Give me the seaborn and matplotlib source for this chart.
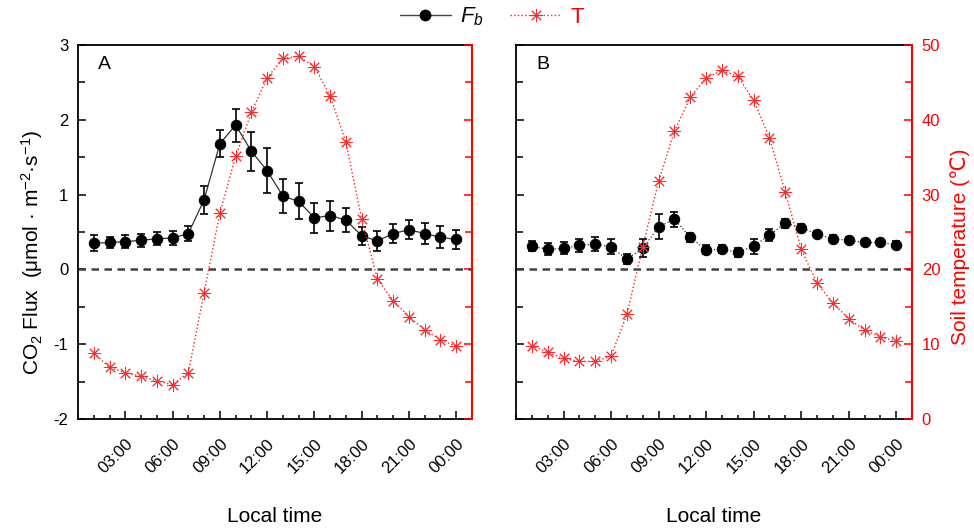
import matplotlib
matplotlib.use("Agg")
import matplotlib.pyplot as plt
import seaborn as sns
import pandas as pd
from matplotlib.lines import Line2D
from matplotlib.ticker import MultipleLocator, FixedLocator

# ---------------- data ----------------
hours = list(range(1, 25))
tick_hours = [3, 6, 9, 12, 15, 18, 21, 24]
tick_labels = ["03:00", "06:00", "09:00", "12:00", "15:00", "18:00", "21:00", "00:00"]

flux_a = [0.35, 0.36, 0.37, 0.39, 0.41, 0.42, 0.48, 0.93, 1.68, 1.93, 1.58, 1.32,
          0.98, 0.91, 0.69, 0.72, 0.66, 0.45, 0.38, 0.48, 0.53, 0.48, 0.43, 0.40]
err_a = [0.11, 0.08, 0.09, 0.09, 0.09, 0.10, 0.10, 0.19, 0.18, 0.22, 0.26, 0.30,
         0.23, 0.24, 0.20, 0.20, 0.16, 0.12, 0.13, 0.13, 0.13, 0.14, 0.15, 0.13]
temp_a = [8.8, 6.9, 6.2, 5.7, 5.1, 4.6, 6.2, 16.9, 27.5, 35.1, 41.0, 45.6,
          48.2, 48.5, 47.1, 43.2, 37.0, 26.7, 18.7, 15.8, 13.7, 11.9, 10.6, 9.7]

flux_b = [0.31, 0.27, 0.28, 0.32, 0.34, 0.30, 0.14, 0.28, 0.57, 0.67, 0.43, 0.26,
          0.27, 0.23, 0.31, 0.46, 0.62, 0.56, 0.47, 0.41, 0.39, 0.36, 0.36, 0.33]
err_b = [0.07, 0.08, 0.08, 0.09, 0.10, 0.10, 0.07, 0.12, 0.17, 0.10, 0.06, 0.06,
         0.05, 0.06, 0.10, 0.08, 0.06, 0.05, 0.04, 0.05, 0.04, 0.04, 0.04, 0.05]
temp_b = [9.8, 8.9, 8.1, 7.7, 7.7, 8.4, 14.0, 23.0, 31.8, 38.5, 43.0, 45.6,
          46.6, 45.8, 42.6, 37.6, 30.3, 22.7, 18.2, 15.5, 13.4, 11.9, 11.0, 10.4]

# ---------------- style ----------------
sns.set_theme(style="ticks")
plt.rcParams["font.family"] = ["Liberation Sans", "DejaVu Sans"]
plt.rcParams["mathtext.fontset"] = "custom"
plt.rcParams["mathtext.rm"] = "Liberation Sans"
plt.rcParams["mathtext.it"] = "Liberation Sans:italic"
plt.rcParams["axes.unicode_minus"] = False
plt.rcParams["text.color"] = "black"
plt.rcParams["axes.labelcolor"] = "black"
plt.rcParams["xtick.labelcolor"] = "black"
plt.rcParams["ytick.labelcolor"] = "black"

fig = plt.figure(figsize=(9.74, 5.29), dpi=100)
axA = fig.add_axes([0.0801, 0.2079, 0.4045, 0.7070])
axB = fig.add_axes([0.5298, 0.2079, 0.4066, 0.7070])

T_MARKER = (8, 2, 0)


def draw(ax, flux, err, temp, flux_ls, letter, left_labels, right_labels):
    df = pd.DataFrame({"hour": hours, "flux": flux, "temp": temp})
    ax.axhline(0, color="#404040", linestyle=(0, (3, 2.2)), lw=1.8, zorder=1)
    ax.errorbar(hours, flux, yerr=err, fmt="none", ecolor="black",
                elinewidth=1.2, capsize=2.7, capthick=1.2, zorder=2)
    sns.lineplot(data=df, x="hour", y="flux", ax=ax, color="#333333",
                 linestyle=flux_ls, lw=0.9, marker="o", markersize=7.5,
                 markerfacecolor="black", markeredgecolor="black", zorder=3)
    ax.set_xlim(0, 25)
    ax.set_ylim(-2, 3)
    ax.set_ylabel("")
    ax.xaxis.set_major_locator(FixedLocator(tick_hours))
    ax.set_xticklabels(tick_labels, rotation=45, ha="right", rotation_mode="anchor")
    ax.xaxis.set_minor_locator(MultipleLocator(1))
    ax.yaxis.set_major_locator(MultipleLocator(1))
    ax.yaxis.set_minor_locator(MultipleLocator(0.5))
    ax.tick_params(axis="both", which="both", direction="in", top=False, right=False,
                   color="black", width=1.1, labelcolor="black")
    ax.tick_params(axis="x", which="major", length=6, labelsize=12, pad=12)
    ax.tick_params(axis="x", which="minor", length=3)
    ax.tick_params(axis="y", which="major", length=6, labelsize=12, pad=7)
    ax.tick_params(axis="y", which="minor", length=5)
    if not left_labels:
        ax.tick_params(axis="y", labelleft=False)
    for s in ["left", "top", "bottom"]:
        ax.spines[s].set_color("black")
        ax.spines[s].set_linewidth(1.3)
    ax.spines["right"].set_visible(False)
    ax.text(0.051, 0.947, letter, transform=ax.transAxes, ha="left", va="center",
            fontsize=14, color="black")
    ax.set_xlabel("Local time", fontsize=15, color="black")
    ax.xaxis.set_label_coords(0.5, -0.235)

    tw = ax.twinx()
    sns.lineplot(data=df, x="hour", y="temp", ax=tw, color="#ff2020", linestyle=":",
                 lw=1.0, marker=T_MARKER, markersize=9.5, markeredgecolor="#ff2a2a",
                 markeredgewidth=0.7, zorder=4)
    tw.set_ylim(0, 50)
    tw.set_xlim(0, 25)
    tw.set_ylabel("")
    tw.yaxis.set_major_locator(MultipleLocator(10))
    tw.yaxis.set_minor_locator(MultipleLocator(5))
    tw.tick_params(axis="y", which="both", direction="in", color="red", width=1.1,
                   labelcolor="red", labelsize=12, pad=7)
    tw.tick_params(axis="y", which="major", length=6)
    tw.tick_params(axis="y", which="minor", length=5)
    if not right_labels:
        tw.tick_params(axis="y", labelright=False)
    for s in ["left", "top", "bottom"]:
        tw.spines[s].set_visible(False)
    tw.spines["right"].set_color("red")
    tw.spines["right"].set_linewidth(1.5)
    return tw


draw(axA, flux_a, err_a, temp_a, "-", "A", True, False)
draw(axB, flux_b, err_b, temp_b, ":", "B", False, True)

fig.text(0.033, 1 - 252 / 529, "CO$_2$ Flux  (μmol · m$^{-2}$·s$^{-1}$)", rotation=90,
         ha="center", va="center", fontsize=15, color="black")
fig.text(960 / 974, 1 - 247 / 529, "Soil temperature (℃)", rotation=90,
         ha="center", va="center", fontsize=15, color="red")

handles = [
    Line2D([], [], color="#444444", lw=1.0, marker="o", markersize=7.5,
           markerfacecolor="black", markeredgecolor="black"),
    Line2D([], [], color="#ff2020", lw=1.0, linestyle=":", marker=T_MARKER,
           markersize=9.5, markeredgecolor="#ff2a2a", markeredgewidth=0.7),
]
leg = fig.legend(handles, ["$F_b$", "T"], loc="center", ncol=2,
                 bbox_to_anchor=(0.505, 1 - 17 / 529), frameon=False, fontsize=16,
                 handlelength=2.3, columnspacing=1.2, handletextpad=0.4)
leg.get_texts()[0].set_color("black")
leg.get_texts()[1].set_color("red")

fig.savefig("out.png", dpi=100)
